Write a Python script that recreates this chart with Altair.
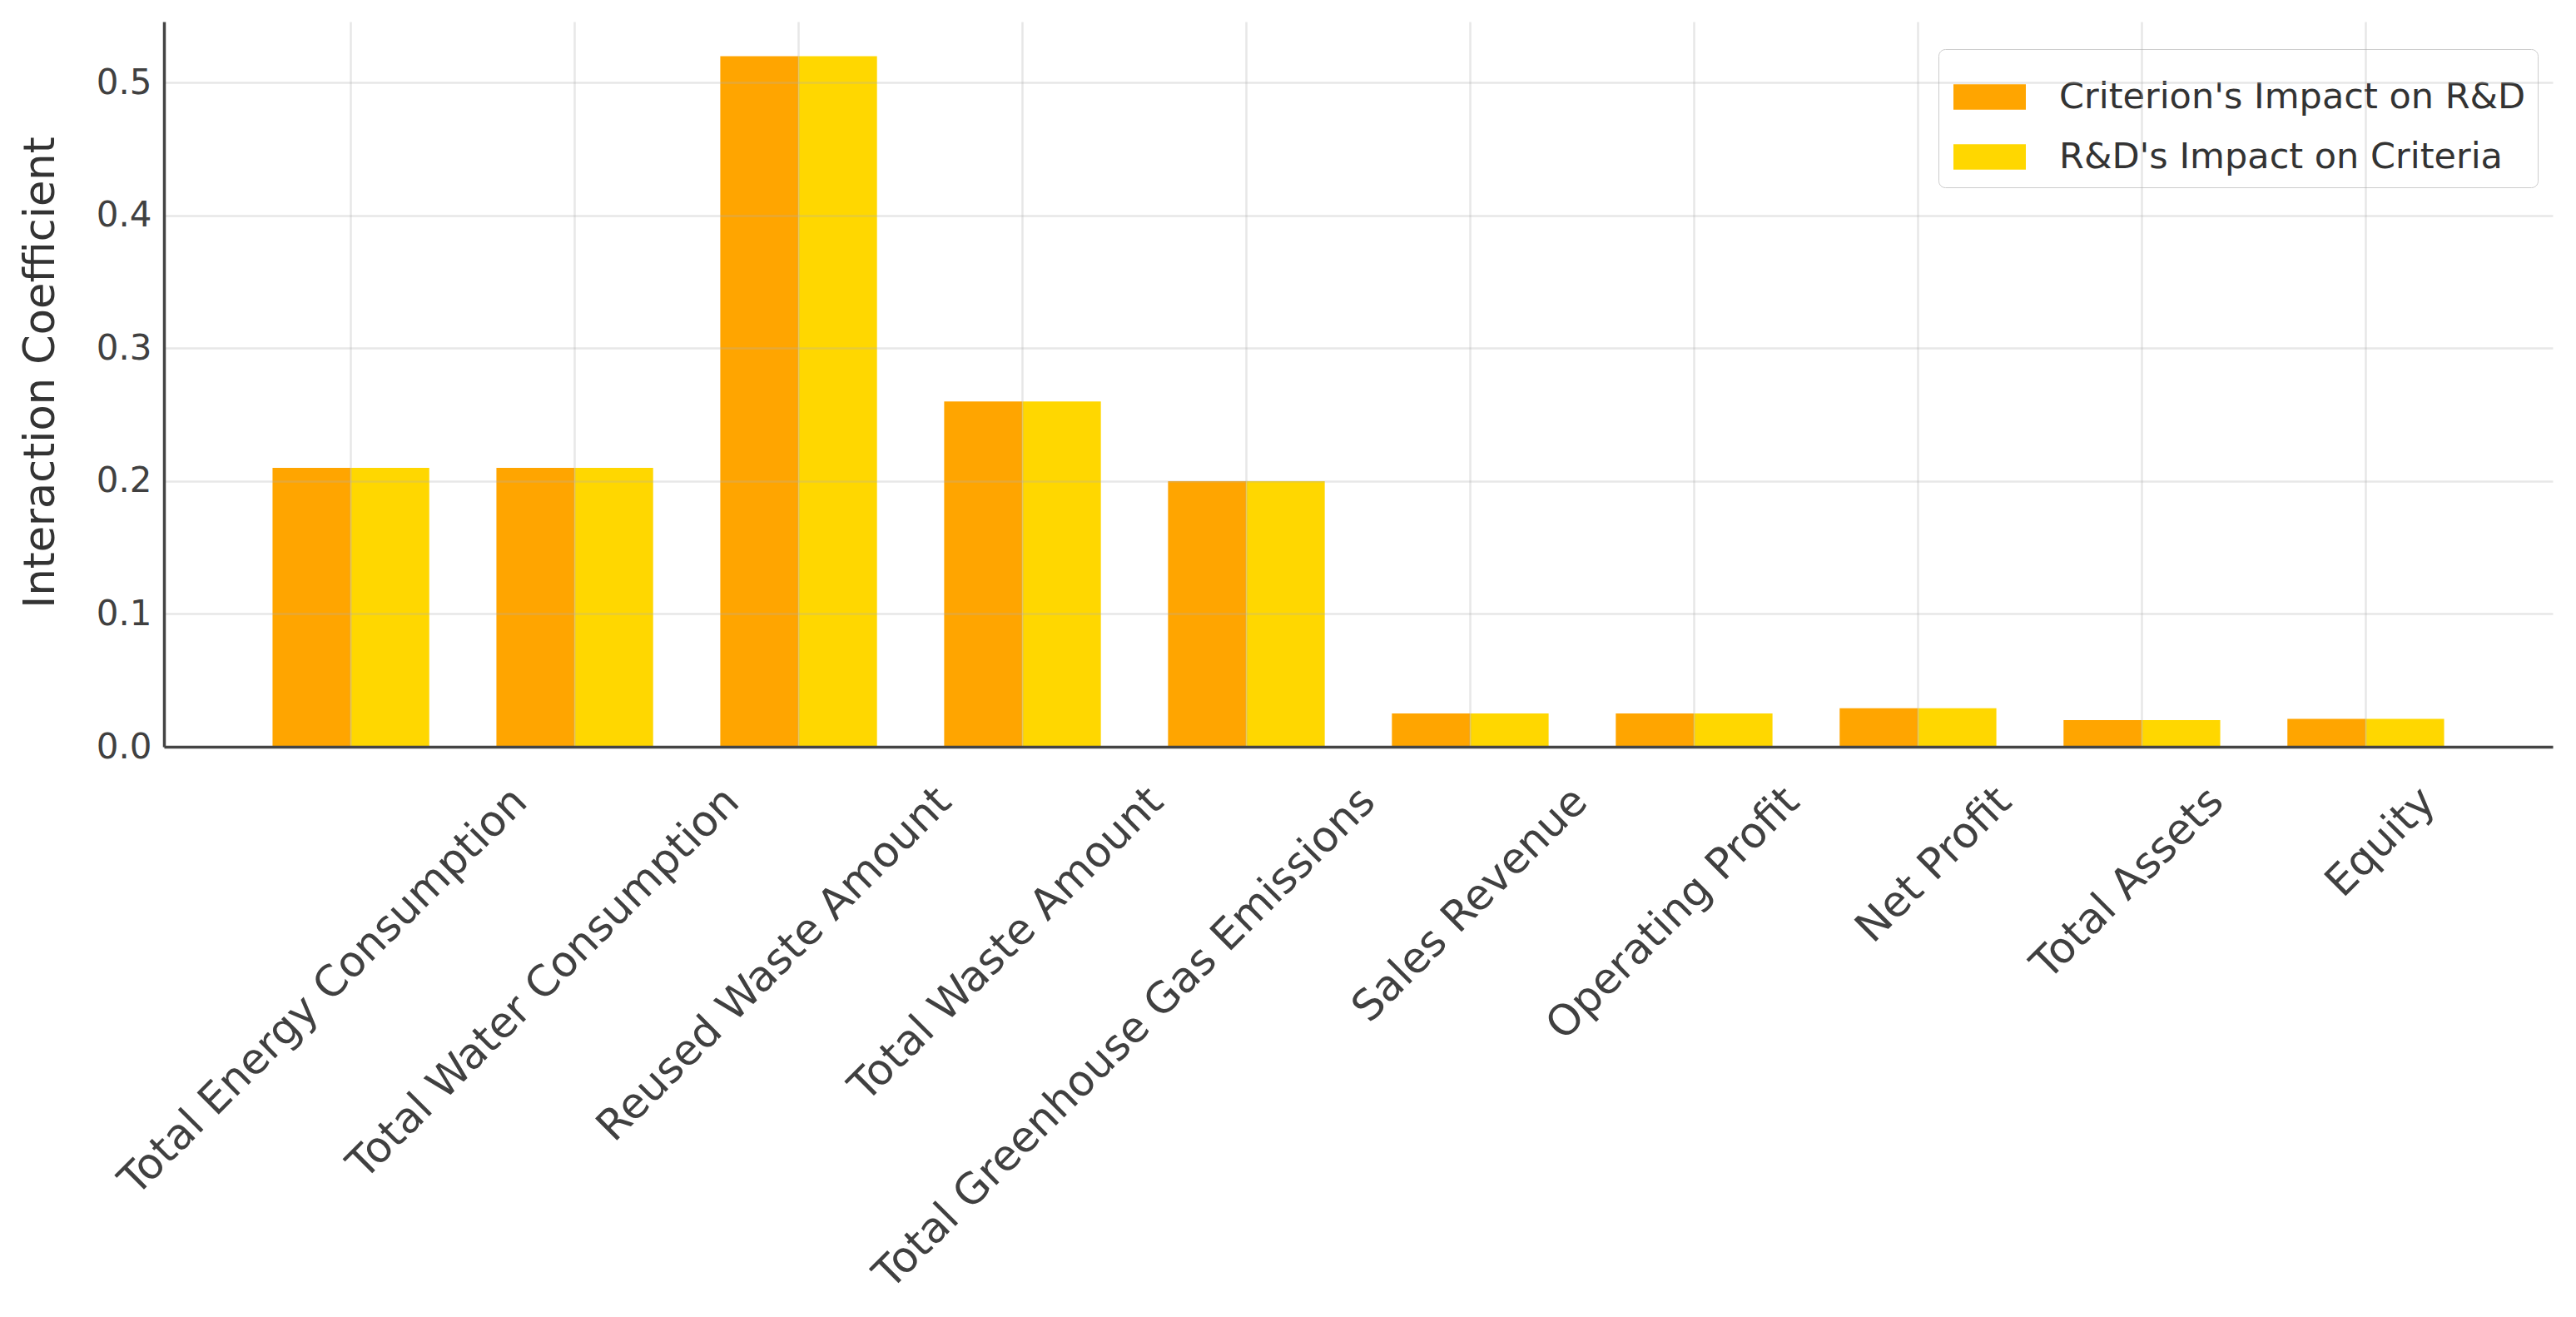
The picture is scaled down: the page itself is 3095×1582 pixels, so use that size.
import altair as alt
import pandas as pd

criteria = [
    "Total Energy Consumption",
    "Total Water Consumption",
    "Reused Waste Amount",
    "Total Waste Amount",
    "Total Greenhouse Gas Emissions",
    "Sales Revenue",
    "Operating Profit",
    "Net Profit",
    "Total Assets",
    "Equity",
]
impact_on_rd = [0.21, 0.21, 0.52, 0.26, 0.20, 0.025, 0.025, 0.029, 0.020, 0.021]
rd_impact = [0.21, 0.21, 0.52, 0.26, 0.20, 0.025, 0.025, 0.029, 0.020, 0.021]
series = ["Criterion's Impact on R&D", "R&D's Impact on Criteria"]
colors = ["#FFA500", "#FFD700"]
y_ticks = [0.0, 0.1, 0.2, 0.3, 0.4, 0.5]

rows = []
for c, a, b in zip(criteria, impact_on_rd, rd_impact):
    rows.append({"criterion": c, "series": series[0], "value": a})
    rows.append({"criterion": c, "series": series[1], "value": b})
df = pd.DataFrame(rows)

FONT = "DejaVu Sans"
rect_path = "M-1,-0.35L1,-0.35L1,0.35L-1,0.35Z"

chart = (
    alt.Chart(df)
    .mark_bar()
    .encode(
        x=alt.X(
            "criterion:N",
            sort=criteria,
            scale=alt.Scale(paddingInner=0.3, paddingOuter=0.485),
            axis=alt.Axis(
                title=None,
                labelAngle=-45,
                labelAlign="right",
                labelBaseline="top",
                labelFontSize=51,
                labelFont=FONT,
                labelColor="#404040",
                labelPadding=40,
                labelLimit=3000,
                labelOverlap=False,
                labelOffset={"expr": "186 - 128*datum.index"},
                ticks=False,
                grid=True,
                bandPosition=0.5,
                gridColor="#b0b0b0",
                gridOpacity=0.3,
                gridWidth=2.5,
                domainColor="#444444",
                domainWidth=3.5,
                zindex=1,
            ),
        ),
        xOffset=alt.XOffset("series:N", sort=series),
        y=alt.Y(
            "value:Q",
            scale=alt.Scale(domain=[0, 0.546], nice=False, zero=True),
            axis=alt.Axis(
                values=y_ticks,
                format=".1f",
                title="Interaction Coefficient",
                titleFont=FONT,
                titleFontSize=51,
                titleFontWeight="normal",
                titleColor="#333333",
                titlePadding=40,
                titleY=421,
                labelFont=FONT,
                labelFontSize=42,
                labelColor="#404040",
                labelPadding=15,
                ticks=False,
                grid=True,
                gridColor="#b0b0b0",
                gridOpacity=0.3,
                gridWidth=2.5,
                domainColor="#444444",
                domainWidth=3.5,
                zindex=1,
            ),
        ),
        color=alt.Color(
            "series:N",
            sort=series,
            scale=alt.Scale(domain=series, range=colors),
            legend=alt.Legend(
                title=None,
                orient="none",
                legendX=2132,
                legendY=33,
                labelFont=FONT,
                labelFontSize=43,
                labelColor="#333333",
                labelLimit=2000,
                labelOffset=40,
                symbolType=rect_path,
                symbolSize=7569,
                symbolOffset=4,
                symbolStrokeWidth=0,
                symbolOpacity=1,
                fillColor="white",
                strokeColor="#cccccc",
                cornerRadius=8,
                padding=14,
                rowPadding=6,
            ),
        ),
    )
    .properties(
        width=2870,
        height=871,
        autosize=alt.AutoSizeParams(type="none"),
        padding={"left": 189, "top": 18, "right": 20, "bottom": 680},
    )
    .configure_view(stroke=None)
)

chart.save("out.html", embed_options={"renderer": "svg", "actions": False})
